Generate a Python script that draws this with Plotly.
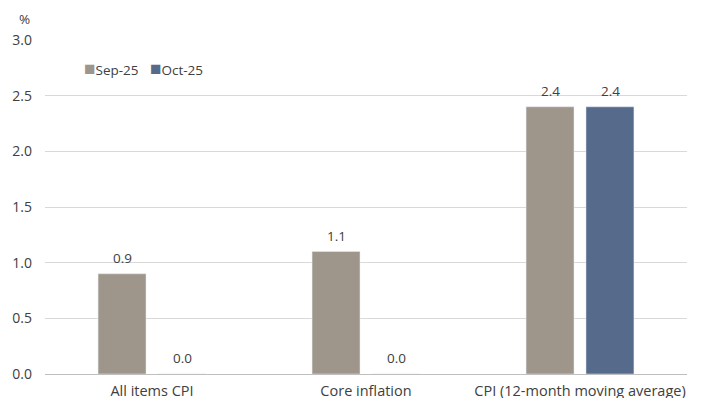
import plotly.graph_objects as go

categories = ["All items CPI", "Core inflation", "CPI (12-month moving average)"]
sep_25 = [0.9, 1.1, 2.4]
oct_25 = [0.0, 0.0, 2.4]
y_ticks = [0.0, 0.5, 1.0, 1.5, 2.0, 2.5, 3.0]
series_names = ["Sep-25", "Oct-25"]
series_colors = ["#9E958B", "#566A8B"]

FONT = "Open Sans"
TEXT_COLOR = "#404040"
SLOT_PX = 30  # horizontal offset of each bar from its category centre

fig = go.Figure()
for name, values, color in zip(series_names, [sep_25, oct_25], series_colors):
    fig.add_trace(go.Bar(name=name, x=categories, y=values, marker_color=color,
                         showlegend=False))

annotations = []
# value labels above each bar
for side, values in zip([-1, 1], [sep_25, oct_25]):
    for cat, v in zip(categories, values):
        annotations.append(dict(
            text=f"{v:.1f}", x=cat, y=v, xref="x", yref="y",
            xanchor="center", yanchor="bottom", xshift=side * SLOT_PX, yshift=5,
            showarrow=False, font=dict(size=13.5, color=TEXT_COLOR, family=FONT)))

# compact legend drawn as text with coloured square glyphs
legend_x = [0.058, 0.16]
for n, c, lx in zip(series_names, series_colors, legend_x):
    annotations.append(dict(
        text=f"<span style='color:{c};font-size:19px'>■</span>{n}", x=lx, y=0.915,
        xref="paper", yref="paper", xanchor="left", yanchor="middle",
        showarrow=False, font=dict(size=13.5, color=TEXT_COLOR, family=FONT)))

annotations.append(dict(text="%", x=-0.02, y=1.0, xref="paper", yref="paper",
                        xanchor="right", yanchor="bottom", yshift=10, showarrow=False,
                        font=dict(size=13.5, color=TEXT_COLOR, family=FONT)))

fig.update_layout(
    width=702, height=398,
    margin=dict(l=45, r=15, t=40, b=24),
    paper_bgcolor="white", plot_bgcolor="white",
    barmode="group", bargap=0.44, bargroupgap=0.2,
    font=dict(family=FONT, size=13, color=TEXT_COLOR),
    showlegend=False,
    xaxis=dict(showgrid=False, showline=True, linecolor="#BFBFBF", linewidth=1,
               ticks="", tickfont=dict(size=14.5), automargin=False,
               ticklabelstandoff=4),
    yaxis=dict(range=[0, 3.0], tickvals=y_ticks, ticktext=[f"{v:.1f}" for v in y_ticks],
               showgrid=True, gridcolor="#D9D9D9", gridwidth=1, zeroline=False,
               showline=False, ticks="", tickfont=dict(size=14), automargin=False,
               ticklabelstandoff=12),
    annotations=annotations,
)

fig.write_html("out.html")
